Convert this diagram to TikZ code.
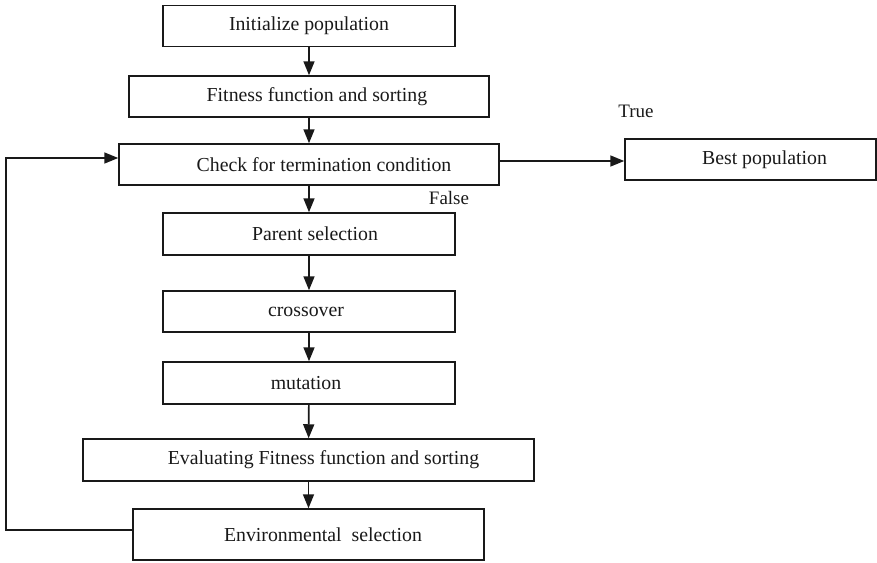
\documentclass[tikz,border=0pt]{standalone}
\usepackage{fontspec}
\setmainfont{Liberation Serif}
\usetikzlibrary{arrows.meta}
\tikzset{
  box/.style={draw=black!90, line width=1.5pt, rectangle, inner sep=0pt, minimum height=41pt, font=\fontsize{19.8}{23}\selectfont, text=black!90},
  arr/.style={draw=black!90, line width=1.7pt, -{Triangle[length=14pt,width=11pt]}},
  lbl/.style={font=\fontsize{19}{22}\selectfont, text=black!90, inner sep=0pt}
}
\begin{document}
\begin{tikzpicture}[x=1pt,y=-1pt]
\useasboundingbox (0,0) rectangle (877,562);
\node[box, minimum width=292pt] (init) at (309,26) {\raisebox{-2pt}{Initialize population}};
\node[box, minimum width=360pt] (fit) at (309,96.5) {\hspace*{16pt}Fitness function and sorting};
\node[box, minimum width=380pt] (check) at (309,164.5) {\hspace*{30pt}Check for termination condition};
\node[box, minimum width=251pt] (best) at (750.5,159.5) {\hspace*{28pt}Best population};
\node[box, minimum width=292pt, minimum height=42pt] (parent) at (309,234) {\hspace*{12pt}Parent selection};
\node[box, minimum width=292pt] (cross) at (309,311.5) {\hspace*{-6pt}crossover};
\node[box, minimum width=292pt, minimum height=42pt] (mut) at (309,383) {\hspace*{-6pt}mutation};
\node[box, minimum width=451pt, minimum height=42pt] (eval) at (308.5,460) {\hspace*{30pt}Evaluating Fitness function and sorting};
\node[box, minimum width=351pt, minimum height=51pt] (env) at (308.5,534.5) {\hspace*{29pt}Environmental~~selection};
\node[lbl] (true) at (636,111) {True};
\node[lbl] (false) at (449,198) {False};
\draw[arr] (init) -- (fit);
\draw[arr] (fit) -- (check);
\draw[arr] (check) -- (parent);
\draw[arr] (parent) -- (cross);
\draw[arr] (cross) -- (mut);
\draw[arr] (mut) -- (eval);
\draw[arr] (eval) -- (env);
\draw[arr] ([yshift=-1.5pt]best.west -| check.east) -- ([yshift=-1.5pt]best.west);
\coordinate (l1) at (6,530);
\coordinate (l2) at (6,158);
\draw[arr] (env.west |- l1) -- (l1) -- (l2) -- (check.west |- l2);
\end{tikzpicture}
\end{document}
